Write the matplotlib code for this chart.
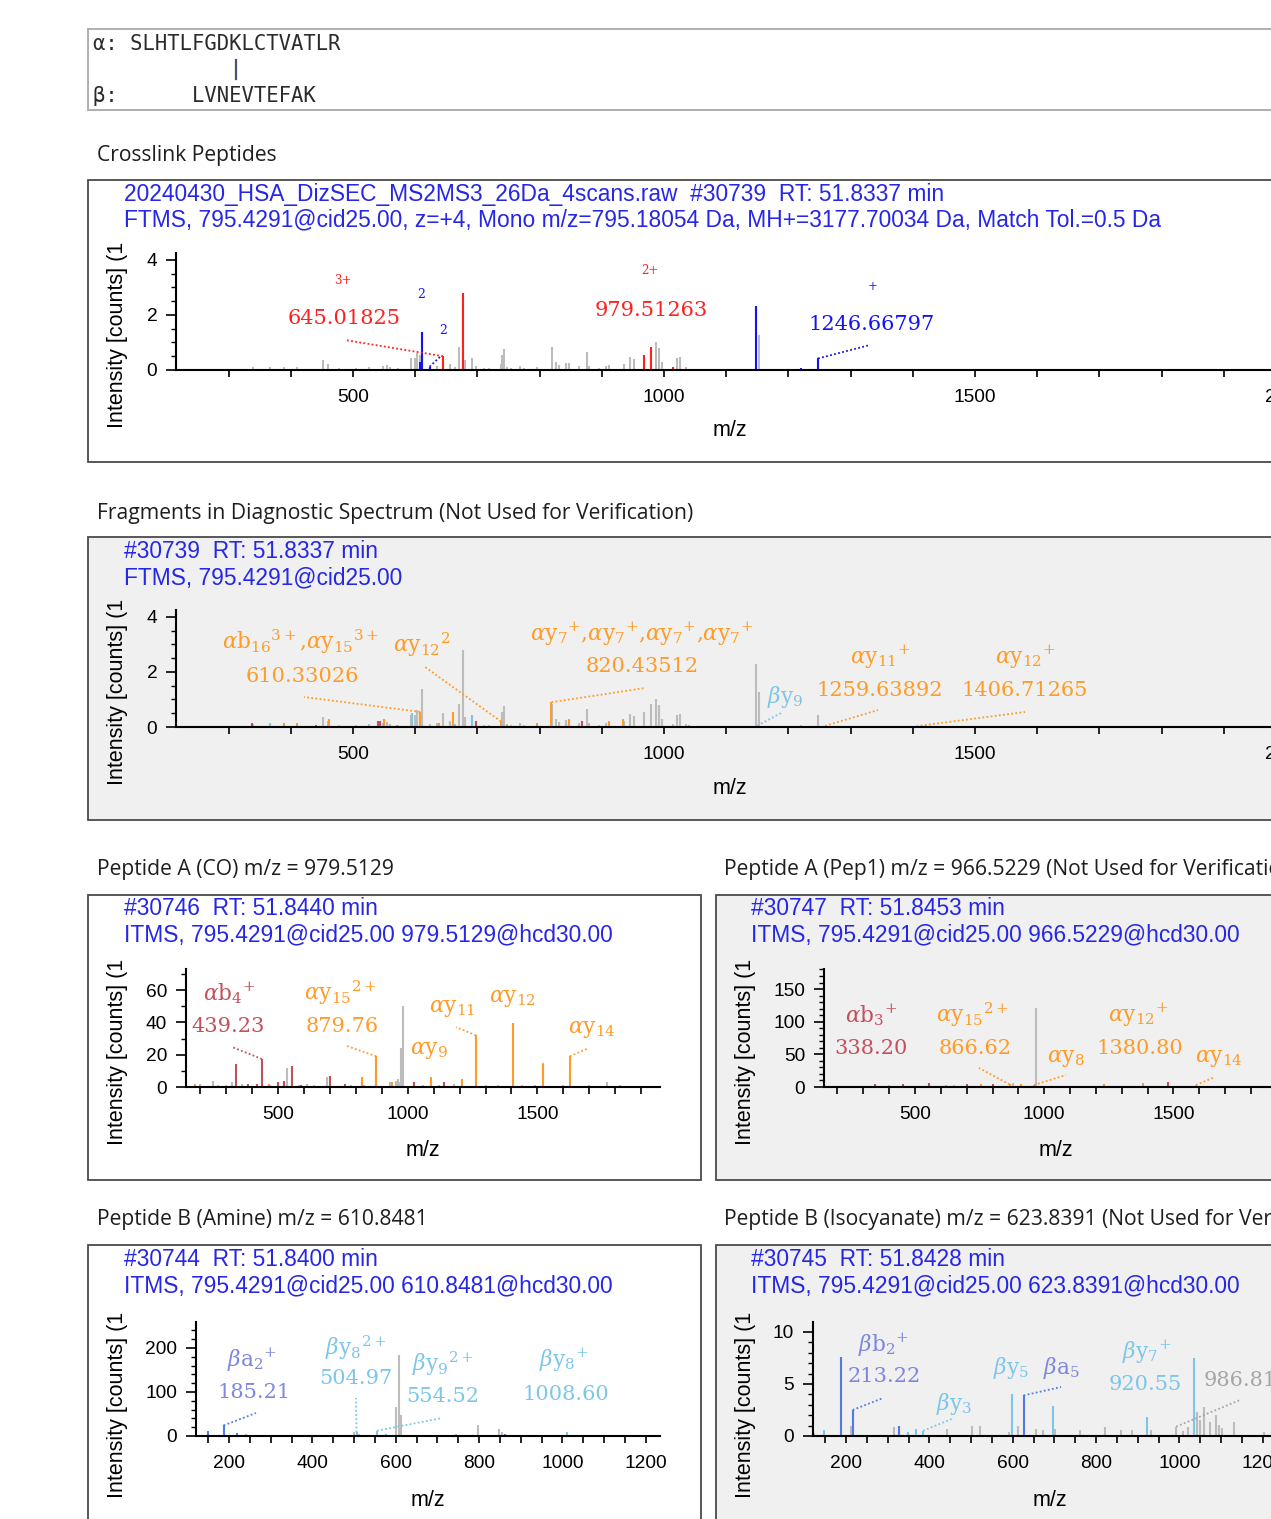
import numpy as np
import matplotlib
matplotlib.use('Agg')
from matplotlib import pyplot as plt
from matplotlib.patches import Rectangle
import matplotlib.ticker as ticker

plt.rcParams['font.family'] = ['Liberation Sans', 'DejaVu Sans']
plt.rcParams['mathtext.fontset'] = 'dejavuserif'

# ---------------- data ----------------
seq_alpha = 'SLHTLFGDKLCTVATLR'
seq_beta = 'LVNEVTEFAK'

hdr1 = ['20240430_HSA_DizSEC_MS2MS3_26Da_4scans.raw  #30739  RT: 51.8337 min',
        'FTMS, 795.4291@cid25.00, z=+4, Mono m/z=795.18054 Da, MH+=3177.70034 Da, Match Tol.=0.5 Da']
hdr2 = ['#30739  RT: 51.8337 min', 'FTMS, 795.4291@cid25.00']
hdr3 = ['#30746  RT: 51.8440 min', 'ITMS, 795.4291@cid25.00 979.5129@hcd30.00']
hdr4 = ['#30747  RT: 51.8453 min', 'ITMS, 795.4291@cid25.00 966.5229@hcd30.00']
hdr5 = ['#30744  RT: 51.8400 min', 'ITMS, 795.4291@cid25.00 610.8481@hcd30.00']
hdr6 = ['#30745  RT: 51.8428 min', 'ITMS, 795.4291@cid25.00 623.8391@hcd30.00']

titles = ['Crosslink Peptides',
          'Fragments in Diagnostic Spectrum (Not Used for Verification)',
          'Peptide A (CO) m/z = 979.5129',
          'Peptide A (Pep1) m/z = 966.5229 (Not Used for Verification)',
          'Peptide B (Amine) m/z = 610.8481',
          'Peptide B (Isocyanate) m/z = 623.8391 (Not Used for Verification)']

# scan 30739 (MS2 crosslink spectrum), intensities in 10^3 counts
s30739_mz = [319, 339, 366, 389, 410, 451, 460, 477, 504, 525,
             549, 555, 560, 573, 593, 600, 603, 608, 610.7, 623,
             635, 645, 656, 664, 671, 677.5, 680.5, 691, 697, 711,
             719, 738, 740, 743, 747, 754, 768, 775, 796, 807,
             819.5, 826, 831, 842, 847, 863, 876.7, 880, 895, 906,
             911, 935, 946, 952, 968, 979.5, 987.6, 992, 997, 1014.5,
             1021.4, 1025, 1035, 1056, 1088, 1131, 1148.4, 1152.6, 1179, 1195,
             1219.7, 1247.6, 1265, 1409]
s30739_int = [0.05, 0.10, 0.10, 0.12, 0.10, 0.36, 0.20, 0.08, 0.06, 0.10,
              0.15, 0.18, 0.12, 0.08, 0.42, 0.42, 0.60, 0.55, 1.38, 0.12,
              0.15, 0.50, 0.22, 0.12, 0.85, 2.80, 0.36, 0.42, 0.15, 0.06,
              0.06, 0.20, 0.55, 0.77, 0.12, 0.06, 0.16, 0.06, 0.10, 0.05,
              0.85, 0.30, 0.18, 0.24, 0.24, 0.16, 0.66, 0.16, 0.06, 0.16,
              0.18, 0.22, 0.46, 0.39, 0.55, 0.85, 1.00, 0.79, 0.30, 0.12,
              0.42, 0.46, 0.12, 0.05, 0.05, 0.05, 2.30, 1.27, 0.05, 0.05,
              0.08, 0.42, 0.05, 0.03]

p1_red_mz = [644.7, 677.5, 967.8, 979.5, 1014.5]
p1_red_int = [0.50, 2.80, 0.55, 0.85, 0.12]
p1_blue_mz = [608.3, 610.4, 623, 1148.4, 1219.7, 1247.6]
p1_blue_int = [0.30, 1.38, 0.12, 2.32, 0.08, 0.42]

p2_orange_mz = [389, 410.5, 461, 549.5, 571, 608, 637.6, 660.5, 738, 747,
                796, 819, 847, 911, 934.5, 1090, 1259, 1406]
p2_orange_int = [0.15, 0.15, 0.30, 0.30, 0.06, 0.55, 0.15, 0.55, 0.20, 0.06,
                 0.15, 0.90, 0.30, 0.20, 0.30, 0.05, 0.04, 0.03]
p2_sky_mz = [366, 493, 501, 595.6, 692, 1040, 1150]
p2_sky_int = [0.15, 0.05, 0.05, 0.50, 0.42, 0.08, 0.05]
p2_crim_mz = [337.6, 439.9, 540, 544, 683, 698, 868.5]
p2_crim_int = [0.15, 0.09, 0.20, 0.20, 0.05, 0.20, 0.23]

# scan 30746 (peptide A, CO)
s30746_mz = [180, 200, 248, 270, 300, 323, 360, 420, 470, 533,
             580, 610, 640, 689, 780, 830, 876, 930, 955, 962,
             968, 975, 982, 1060, 1120, 1180, 1300, 1350, 1440, 1490,
             1521, 1600, 1700, 1770, 1820]
s30746_int = [1, 2, 4, 1, 1, 3, 2, 2, 1, 12,
              1, 2, 1, 6, 1, 1, 19, 3, 4, 5,
              3, 24, 50, 1, 1, 2, 1, 1, 1, 1,
              15, 1, 1, 3, 1]
p3_crim_mz = [339, 383, 420, 438, 500, 525, 554, 590, 700, 758, 878, 1025, 1140]
p3_crim_int = [14, 2, 2, 17.3, 3, 4, 13, 1, 7, 2, 8, 3, 3]
p3_orange_mz = [180, 465, 822, 878.6, 938, 1090, 1208, 1263, 1406, 1521, 1625]
p3_orange_int = [2, 2, 6, 19, 3, 6, 5, 32, 39.5, 14, 19]

# scan 30747 (peptide A, Pep1)
s30747_mz = [150, 400, 650, 880, 970, 1100, 1300, 1700]
s30747_int = [2, 3, 3, 6, 121, 2, 2, 2]
p4_crim_mz = [344, 454, 556, 700, 800, 1479]
p4_crim_int = [5, 5, 6, 5, 4, 8]
p4_orange_mz = [620, 754, 866, 912, 960, 1233, 1383, 1587]
p4_orange_int = [3, 4, 4, 4, 3, 5, 6, 3]

# scan 30744 (peptide B, amine)
s30744_mz = [133, 240, 501, 511, 600, 608.6, 612, 632, 660, 744,
             798, 847, 856, 940, 987]
s30744_int = [3, 4, 8, 5, 65, 184, 48, 3, 2, 5,
              25, 16, 10, 3, 3]
p5_blue_mz = [149, 187, 219, 333, 366, 861, 893, 1080]
p5_blue_int = [11, 24, 6, 3, 3, 4, 3, 3]
p5_sky_mz = [506, 555, 576, 1010]
p5_sky_int = [8, 12, 4, 10]

# scan 30745 (peptide B, isocyanate)
s30745_mz = [123, 213, 315, 443, 502, 522, 590, 613, 656, 673,
             702, 761, 821, 860, 885, 932, 992, 1009, 1021, 1042,
             1049, 1060, 1073, 1087, 1094, 1102, 1132, 1204]
s30745_int = [0.3, 1.0, 0.9, 0.7, 1.0, 1.0, 0.4, 1.0, 0.7, 0.6,
              0.7, 0.6, 0.9, 0.6, 0.6, 0.6, 0.9, 0.5, 0.9, 2.3,
              1.5, 2.8, 1.3, 2.0, 1.1, 0.8, 1.3, 0.4]
p6_blue_mz = [189, 216, 328, 626]
p6_blue_int = [7.55, 2.5, 1.0, 3.9]
p6_sky_mz = [148, 349, 368, 385, 598, 697, 922, 1034]
p6_sky_int = [0.6, 0.4, 0.7, 0.5, 4.0, 2.9, 1.8, 7.5]

# ---------------- style ----------------
W, H = 1271, 1519
C_HDR = '#2626e6'
C_RED = '#ff2020'
C_BLUE = '#1414f0'
C_ORANGE = '#ff9b26'
C_CRIM = '#c4505c'
C_SKY = '#7cc6ea'
C_MBLUE = '#4f7be6'
C_MBLUE_T = '#7d86e0'
C_GRAY = '#bcbcbc'
C_GRAY_T = '#a6a6a6'
C_PANEL = '#f0f0f0'
C_TITLE = '#1e1e1e'

fig = plt.figure(figsize=(W / 100, H / 100), dpi=100)
fig.patch.set_facecolor('white')


def box(x0, y0, x1, y1, face, edge='#4a4a4a'):
    fig.add_artist(Rectangle((x0 / W, 1 - y1 / H), (x1 - x0) / W, (y1 - y0) / H,
                             transform=fig.transFigure, facecolor=face,
                             edgecolor=edge, lw=1.3, zorder=-5))


def ftext(x, y, s, **kw):
    kw.setdefault('ha', 'center')
    kw.setdefault('va', 'center')
    return fig.text(x / W, 1 - y / H, s, **kw)


def spectrum_axes(left, top, right, bottom, xlim, ylim, xmaj, xmin, ymaj, ymin):
    ax = fig.add_axes([left / W, 1 - bottom / H, (right - left) / W, (bottom - top) / H])
    ax.set_xlim(*xlim)
    ax.set_ylim(*ylim)
    ax.patch.set_alpha(0)
    for s in ['top', 'right']:
        ax.spines[s].set_visible(False)
    for s in ['left', 'bottom']:
        ax.spines[s].set_linewidth(1.5)
    ax.xaxis.set_major_locator(ticker.MultipleLocator(xmaj))
    ax.xaxis.set_minor_locator(ticker.MultipleLocator(xmin))
    ax.yaxis.set_major_locator(ticker.MultipleLocator(ymaj))
    ax.yaxis.set_minor_locator(ticker.MultipleLocator(ymin))
    ax.tick_params(axis='x', which='both', length=5, width=1.2, labelsize=13.8, pad=8.5)
    ax.tick_params(axis='y', which='major', length=7.5, width=1.2, labelsize=13.8, pad=6)
    ax.tick_params(axis='y', which='minor', length=3.5, width=1.0)
    return ax


def peaks(ax, mz, inten, color):
    ax.vlines(mz, 0, inten, colors=color, lw=1.5, clip_on=False)


def connect(ax, mz_list, int_list, mz, x, y, color):
    i = int(np.argmin(np.abs(np.array(mz_list) - mz)))
    dx, dy = ax.transData.inverted().transform((x, H - y))
    ax.plot([mz_list[i], dx], [int_list[i], dy], color=color, lw=1.3,
            ls=(0, (1, 1.3)), clip_on=False)


def headers(x, y, lines):
    ftext(x, y, lines[0], ha='left', color=C_HDR, fontsize=16.4)
    ftext(x, y + 26, lines[1], ha='left', color=C_HDR, fontsize=16.4)


def ion(x, y, s, color, size=15.6):
    ftext(x, y, s, color=color, fontsize=size, family='DejaVu Serif')


def ylab(x, y):
    ftext(x, y, 'Intensity [counts] (1', rotation=90, fontsize=15.5)


# ---------------- sequence box ----------------
box(88, 29, 1300, 110, 'white', edge='#a8a8a8')
ftext(93, 44, 'α: ' + seq_alpha, ha='left', family='DejaVu Sans Mono',
      fontsize=14.8, color='#2b2b2b')
ftext(93, 96, 'β:' + ' ' * 6 + seq_beta, ha='left', family='DejaVu Sans Mono',
      fontsize=14.8, color='#2b2b2b')
fig.add_artist(plt.Line2D([236 / W, 236 / W], [1 - 60 / H, 1 - 79 / H],
                          transform=fig.transFigure, color='#4a5478', lw=1.6))

# panel titles
title_pos = [(97, 155), (97, 513), (97, 870), (724, 870), (97, 1219), (724, 1219)]
for (tx, ty), t in zip(title_pos, titles):
    ftext(tx, ty, t, ha='left', family='Open Sans', fontsize=15.2, color=C_TITLE)

# ---------------- panel 1: crosslink spectrum ----------------
box(88, 180, 1300, 462, 'white')
headers(124, 194, hdr1)
ax1 = spectrum_axes(176, 253, 1348, 370, (215.4, 2099.7), (0, 4.25), 500, 100, 2, 0.5)
peaks(ax1, s30739_mz, s30739_int, C_GRAY)
peaks(ax1, p1_red_mz, p1_red_int, C_RED)
peaks(ax1, p1_blue_mz, p1_blue_int, C_BLUE)
ftext(343, 280, '3+', color=C_RED, fontsize=8.5, family='DejaVu Serif')
ftext(344, 318, '645.01825', color=C_RED, fontsize=15, family='DejaVu Serif')
ftext(421, 294, '2', color=C_BLUE, fontsize=9, family='DejaVu Serif')
ftext(443, 330, '2', color=C_BLUE, fontsize=9, family='DejaVu Serif')
ftext(650, 270, '2+', color=C_RED, fontsize=8.5, family='DejaVu Serif')
ftext(651, 310, '979.51263', color=C_RED, fontsize=15, family='DejaVu Serif')
ftext(873, 286, '+', color=C_BLUE, fontsize=8.5, family='DejaVu Serif')
ftext(872, 324, '1246.66797', color=C_BLUE, fontsize=15, family='DejaVu Serif')
connect(ax1, p1_red_mz, p1_red_int, 644.7, 345, 340, C_RED)
connect(ax1, p1_blue_mz, p1_blue_int, 623, 441, 356, C_BLUE)
connect(ax1, p1_blue_mz, p1_blue_int, 1247.6, 870, 345, C_BLUE)
ylab(118, 335)
ftext(730, 430, 'm/z', fontsize=15.5)

# ---------------- panel 2: diagnostic fragments ----------------
box(88, 537, 1300, 820, C_PANEL)
headers(124, 552, hdr2)
ax2 = spectrum_axes(176, 610, 1348, 727, (215.4, 2099.7), (0, 4.25), 500, 100, 2, 0.5)
peaks(ax2, s30739_mz, s30739_int, C_GRAY)
peaks(ax2, p2_crim_mz, p2_crim_int, C_CRIM)
peaks(ax2, p2_sky_mz, p2_sky_int, C_SKY)
peaks(ax2, p2_orange_mz, p2_orange_int, C_ORANGE)
ion(300, 642, r'$\alpha\mathrm{b}_{16}{}^{3+}$,$\alpha\mathrm{y}_{15}{}^{3+}$', C_ORANGE)
ion(302, 677, '610.33026', C_ORANGE, 15)
ion(422, 645, r'$\alpha\mathrm{y}_{12}{}^{2}$', C_ORANGE)
ion(642, 634, ','.join([r'$\alpha\mathrm{y}_{7}{}^{+}$'] * 4), C_ORANGE)
ion(642, 667, '820.43512', C_ORANGE, 15)
ion(785, 697, r'$\beta\mathrm{y}_{9}$', C_SKY)
ion(880, 657, r'$\alpha\mathrm{y}_{11}{}^{+}$', C_ORANGE)
ion(880, 690, '1259.63892', C_ORANGE, 15)
ion(1025, 657, r'$\alpha\mathrm{y}_{12}{}^{+}$', C_ORANGE)
ion(1025, 690, '1406.71265', C_ORANGE, 15)
connect(ax2, p2_orange_mz, p2_orange_int, 608, 304, 697, C_ORANGE)
connect(ax2, p2_orange_mz, p2_orange_int, 738, 425, 667, C_ORANGE)
connect(ax2, p2_orange_mz, p2_orange_int, 819, 645, 688, C_ORANGE)
connect(ax2, p2_sky_mz, p2_sky_int, 1150, 783, 712, C_SKY)
connect(ax2, p2_orange_mz, p2_orange_int, 1259, 878, 710, C_ORANGE)
connect(ax2, p2_orange_mz, p2_orange_int, 1406, 1025, 712, C_ORANGE)
ylab(118, 692)
ftext(730, 788, 'm/z', fontsize=15.5)

# ---------------- panel 3: peptide A (CO) ----------------
box(88, 895, 701, 1180, 'white')
headers(124, 909, hdr3)
ax3 = spectrum_axes(186, 969, 660, 1087, (145.3, 1972.6), (0, 73), 500, 100, 20, 10)
peaks(ax3, s30746_mz, s30746_int, C_GRAY)
peaks(ax3, p3_crim_mz, p3_crim_int, C_CRIM)
peaks(ax3, p3_orange_mz, p3_orange_int, C_ORANGE)
ion(229, 993, r'$\alpha\mathrm{b}_{4}{}^{+}$', C_CRIM)
ion(228, 1027, '439.23', C_CRIM, 15)
ion(340, 993, r'$\alpha\mathrm{y}_{15}{}^{2+}$', C_ORANGE)
ion(342, 1027, '879.76', C_ORANGE, 15)
ion(429, 1050, r'$\alpha\mathrm{y}_{9}$', C_ORANGE)
ion(452, 1008, r'$\alpha\mathrm{y}_{11}$', C_ORANGE)
ion(512, 998, r'$\alpha\mathrm{y}_{12}$', C_ORANGE)
ion(592, 1029, r'$\alpha\mathrm{y}_{14}$', C_ORANGE)
connect(ax3, p3_crim_mz, p3_crim_int, 438, 232, 1047, C_CRIM)
connect(ax3, p3_orange_mz, p3_orange_int, 878.6, 347, 1046, C_ORANGE)
connect(ax3, p3_orange_mz, p3_orange_int, 1263, 456, 1027, C_ORANGE)
connect(ax3, p3_orange_mz, p3_orange_int, 1625, 589, 1048, C_ORANGE)
ylab(118, 1052)
ftext(423, 1150, 'm/z', fontsize=15.5)

# ---------------- panel 4: peptide A (Pep1) ----------------
box(716, 895, 1300, 1180, C_PANEL)
headers(751, 909, hdr4)
ax4 = spectrum_axes(824, 969, 1296, 1087, (148, 1974), (0, 180.7), 500, 100, 50, 10)
peaks(ax4, s30747_mz, s30747_int, C_GRAY)
peaks(ax4, p4_crim_mz, p4_crim_int, C_CRIM)
peaks(ax4, p4_orange_mz, p4_orange_int, C_ORANGE)
ion(871, 1015, r'$\alpha\mathrm{b}_{3}{}^{+}$', C_CRIM)
ion(871, 1049, '338.20', C_CRIM, 15)
ion(972, 1015, r'$\alpha\mathrm{y}_{15}{}^{2+}$', C_ORANGE)
ion(975, 1049, '866.62', C_ORANGE, 15)
ion(1066, 1058, r'$\alpha\mathrm{y}_{8}$', C_ORANGE)
ion(1138, 1015, r'$\alpha\mathrm{y}_{12}{}^{+}$', C_ORANGE)
ion(1140, 1048, '1380.80', C_ORANGE, 15)
ion(1219, 1058, r'$\alpha\mathrm{y}_{14}$', C_ORANGE)
connect(ax4, p4_orange_mz, p4_orange_int, 866, 979, 1068, C_ORANGE)
connect(ax4, p4_orange_mz, p4_orange_int, 960, 1066, 1075, C_ORANGE)
connect(ax4, p4_orange_mz, p4_orange_int, 1587, 1215, 1077, C_ORANGE)
ylab(746, 1052)
ftext(1056, 1150, 'm/z', fontsize=15.5)

# ---------------- panel 5: peptide B (amine) ----------------
box(88, 1245, 701, 1560, 'white')
headers(124, 1260, hdr5)
ax5 = spectrum_axes(196, 1322, 660, 1436, (120.8, 1234), (0, 259), 200, 50, 100, 20)
peaks(ax5, s30744_mz, s30744_int, C_GRAY)
peaks(ax5, p5_blue_mz, p5_blue_int, C_MBLUE)
peaks(ax5, p5_sky_mz, p5_sky_int, C_SKY)
ion(252, 1360, r'$\beta\mathrm{a}_{2}{}^{+}$', C_MBLUE_T)
ion(254, 1393, '185.21', C_MBLUE_T, 15)
ion(356, 1348, r'$\beta\mathrm{y}_{8}{}^{2+}$', C_SKY)
ion(356, 1378, '504.97', C_SKY, 15)
ion(443, 1364, r'$\beta\mathrm{y}_{9}{}^{2+}$', C_SKY)
ion(443, 1397, '554.52', C_SKY, 15)
ion(564, 1360, r'$\beta\mathrm{y}_{8}{}^{+}$', C_SKY)
ion(566, 1394, '1008.60', C_SKY, 15)
connect(ax5, p5_blue_mz, p5_blue_int, 187, 256, 1413, C_MBLUE)
connect(ax5, p5_sky_mz, p5_sky_int, 506, 356, 1398, C_SKY)
connect(ax5, p5_sky_mz, p5_sky_int, 555, 442, 1418, C_SKY)
ylab(118, 1405)
ftext(428, 1500, 'm/z', fontsize=15.5)

# ---------------- panel 6: peptide B (isocyanate) ----------------
box(716, 1245, 1300, 1560, C_PANEL)
headers(751, 1260, hdr6)
ax6 = spectrum_axes(813, 1322, 1277, 1436, (120.8, 1234), (0, 10.96), 200, 50, 5, 1)
peaks(ax6, s30745_mz, s30745_int, C_GRAY)
peaks(ax6, p6_sky_mz, p6_sky_int, C_SKY)
peaks(ax6, p6_blue_mz, p6_blue_int, C_MBLUE)
ion(883, 1345, r'$\beta\mathrm{b}_{2}{}^{+}$', C_MBLUE_T)
ion(884, 1377, '213.22', C_MBLUE_T, 15)
ion(954, 1404, r'$\beta\mathrm{y}_{3}$', C_SKY)
ion(1011, 1368, r'$\beta\mathrm{y}_{5}$', C_SKY)
ion(1061, 1368, r'$\beta\mathrm{a}_{5}$', C_MBLUE_T)
ion(1147, 1352, r'$\beta\mathrm{y}_{7}{}^{+}$', C_SKY)
ion(1145, 1384, '920.55', C_SKY, 15)
ion(1240, 1380, '986.81', C_GRAY_T, 15)
connect(ax6, p6_blue_mz, p6_blue_int, 216, 883, 1398, C_MBLUE)
connect(ax6, p6_sky_mz, p6_sky_int, 385, 954, 1418, C_SKY)
connect(ax6, p6_blue_mz, p6_blue_int, 626, 1061, 1387, C_MBLUE)
connect(ax6, s30745_mz, s30745_int, 992, 1240, 1400, C_GRAY_T)
ylab(746, 1405)
ftext(1050, 1500, 'm/z', fontsize=15.5)

fig.savefig('out.png', dpi=100)
